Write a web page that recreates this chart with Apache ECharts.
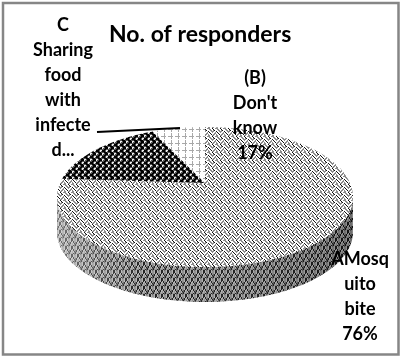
<!DOCTYPE html>
<html>
<head>
<meta charset="utf-8">
<style>
html, body { margin: 0; padding: 0; background: #fff; }
#main { width: 402px; height: 359px; }
</style>
<script src="https://cdn.jsdelivr.net/npm/echarts@6/dist/echarts.min.js"></script>
</head>
<body>
<div id="main"></div>
<script>
// slices run clockwise from 12 o'clock
const categories = ['AMosquito bite', "(B) Don't know", 'C Sharing food with infected...'];
const values = [76, 17, 7];
const labelTexts = ['AMosq\nuito\nbite\n76%', "(B)\nDon't\nknow\n17%", 'C\nSharing\nfood\nwith\ninfecte\nd...'];
const labelPos = [[360, 297], [255, 116], [63, 88]];

const FONT = '"Lato", "Open Sans", sans-serif';

// perspective of the tilted disc
const cx = 205, cy = 183, R = 145, A = 67.2, k = 0.2, depth = 35;

function project(theta) {
    let s = Math.sin(theta), c = Math.cos(theta), w = 1 + k * c;
    return [cx + R * s / w, cy - A * c / w];
}

function arcPoints(a0, a1) {
    let pts = [], n = Math.max(2, Math.ceil(Math.abs(a1 - a0) / 0.02));
    for (let i = 0; i <= n; i++) pts.push(project(a0 + (a1 - a0) * i / n));
    return pts;
}

// tile from rows of characters, one colour per character
function makeTile(rows, colors) {
    let c = document.createElement('canvas');
    c.width = rows[0].length;
    c.height = rows.length;
    let ctx = c.getContext('2d');
    rows.forEach(function(row, y) {
        for (let x = 0; x < row.length; x++) {
            ctx.fillStyle = colors[row[x]];
            ctx.fillRect(x, y, 1, 1);
        }
    });
    return { image: c, repeat: 'repeat' };
}

const zigTop = makeTile([
    'gg..k..g',
    '.gg..k..',
    '..gg.gk.',
    'k..ggg..',
    '.k..g..g',
    '..k...gg',
    'g..k.gg.',
    'gg..gg..'
], { '.': '#fff', g: '#8a8a8a', k: '#111' });
const zigWall = makeTile([
    'k.gg.k',
    '.kgg.k',
    '.kgdk.',
    'g.kdk.',
    'g.dkg.',
    'gkdkgg',
    'k.dg.k',
    'k.gg.k'
], { '.': '#b0b0b0', g: '#8c8c8c', d: '#5c5c5c', k: '#161616' });
const dots = makeTile([
    'kkkdww',
    'kkkdwd',
    'ddkkkd',
    'wwdkkk',
    'wddkkk',
    'ddkkdd'
], { k: '#000', d: '#555', w: '#eee' });
const grid = makeTile([
    '...g...',
    '...g...',
    '...g...',
    'ggggg..',
    '...g...',
    '...g...',
    '.......'
], { '.': '#fff', g: '#a8a8a8' });
const fills = [zigTop, dots, grid];

const total = values.reduce(function(a, b) { return a + b; }, 0);
const seriesData = values.map(function(v, i) {
    return { name: categories[i], value: v };
});

function renderSlice(params, api) {
    let i = params.dataIndex;
    let before = values.slice(0, i).reduce(function(a, b) { return a + b; }, 0);
    let a0 = before / total * Math.PI * 2;
    let a1 = (before + api.value(0)) / total * Math.PI * 2;
    let children = [];

    // side wall, only the part of the rim facing the viewer
    let wallFrom = Math.max(a0, Math.acos(-k));
    let wallTo = Math.min(a1, Math.PI * 2 - Math.acos(-k));
    if (wallFrom < wallTo) {
        let rim = arcPoints(wallFrom, wallTo);
        let low = rim.map(function(p) { return [p[0], p[1] + depth]; }).reverse();
        let wall = rim.concat(low);
        children.push({ type: 'polygon', shape: { points: wall }, style: { fill: zigWall }, silent: true });
        children.push({
            type: 'polygon',
            shape: { points: wall },
            style: {
                fill: {
                    type: 'linear', x: 0, y: 0, x2: 1, y2: 0,
                    colorStops: [
                        { offset: 0, color: 'rgba(255,255,255,0.4)' },
                        { offset: 0.3, color: 'rgba(255,255,255,0.05)' },
                        { offset: 1, color: 'rgba(0,0,0,0.22)' }
                    ]
                }
            },
            silent: true
        });
    }

    children.push({
        type: 'polygon',
        shape: { points: [[cx, cy]].concat(arcPoints(a0, a1)) },
        style: { fill: fills[i] }
    });
    return { type: 'group', children: children };
}

const myChart = echarts.init(document.getElementById('main'));

let option = {
    animation: false,
    title: {
        text: 'No. of responders',
        left: 104,
        top: 18,
        textStyle: { color: '#000', fontFamily: FONT, fontWeight: 700, fontSize: 23 }
    },
    graphic: [
        {
            type: 'rect',
            shape: { x: 3, y: 3, width: 395.5, height: 351.5 },
            style: { fill: 'none', stroke: '#868686', lineWidth: 2.5 },
            z: 0
        },
        {
            type: 'line',
            shape: { x1: 97, y1: 132, x2: 180, y2: 128 },
            style: { stroke: '#000', lineWidth: 2 },
            z: 20
        }
    ].concat(labelTexts.map(function(t, i) {
        return {
            type: 'text',
            x: labelPos[i][0],
            y: labelPos[i][1],
            z: 30,
            style: {
                text: t,
                fill: '#000',
                font: '700 18px ' + FONT,
                lineHeight: 25,
                align: 'center',
                verticalAlign: 'middle'
            }
        };
    })),
    series: [
        {
            type: 'custom',
            coordinateSystem: 'none',
            renderItem: renderSlice,
            data: seriesData,
            z: 5
        }
    ]
};

myChart.setOption(option);
</script>
</body>
</html>
